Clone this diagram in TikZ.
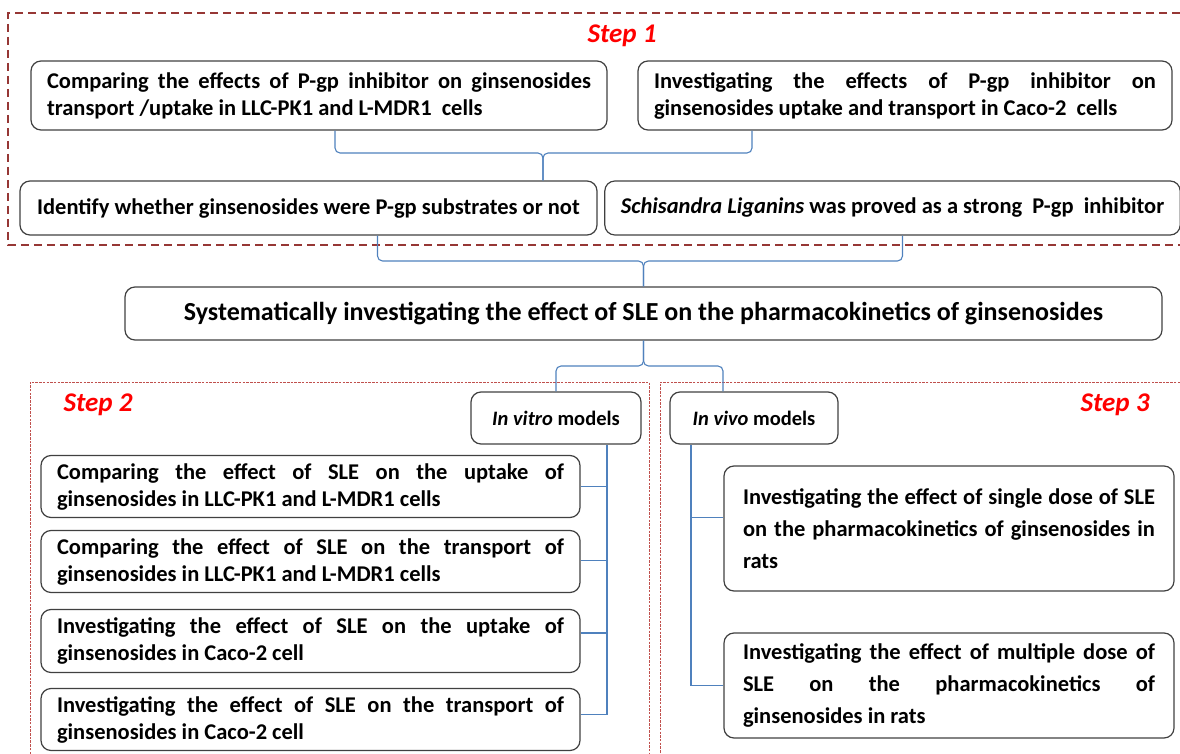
\documentclass[tikz,border=0pt]{standalone}
\usepackage{fontspec}
\setmainfont{Carlito}
\definecolor{framered}{RGB}{150,55,53}
\definecolor{dotred}{RGB}{192,80,77}
\definecolor{linkblue}{RGB}{79,129,189}
\definecolor{boxgray}{RGB}{64,64,64}
\hyphenpenalty=10000
\exhyphenpenalty=10000

\begin{document}
\begin{tikzpicture}[
    x=1pt, y=-1pt,
    box/.style={draw=boxgray, line width=1.2pt, rounded corners=10pt,
        inner xsep=16pt, inner ysep=0pt,
        font=\bfseries\fontsize{22.5}{27}\selectfont},
    stepname/.style={text=red, font=\bfseries\itshape\fontsize{27}{30}\selectfont},
    stepframe/.style={draw=framered, line width=2.5pt, dash pattern=on 8pt off 5pt},
    subframe/.style={draw=dotred, line width=0.8pt, dash pattern=on 2.5pt off 1.2pt},
    link/.style={draw=linkblue, line width=1.1pt, rounded corners=5pt},
    tree/.style={draw=linkblue, line width=1.1pt},
]
\path[use as bounding box] (0,0) rectangle (1180,754);
% Frames
\draw[stepframe] (1180,13) -- (8,13) -- (8,245) -- (1180,245);
\draw[subframe] (30,754) -- (30,382) -- (649,382) -- (649,754);
\draw[subframe] (1180,382) -- (660,382) -- (660,754);
\node[stepname] (s1) at (622,36) {Step 1};
\node[stepname] (s2) at (98,405) {Step 2};
\node[stepname] (s3) at (1115,405) {Step 3};
% Step 1 nodes
\node[box, minimum width=576pt, minimum height=69pt, text width=544pt, align=justify] (A) at (319,95.5)
    {Comparing the effects of P-gp inhibitor on ginsenosides\linebreak transport /uptake in LLC-PK1 and L-MDR1~ cells};
\node[box, minimum width=534pt, minimum height=69pt, text width=502pt, align=justify] (B) at (905,95.5)
    {Investigating the effects of P-gp inhibitor on\linebreak ginsenosides uptake and transport in Caco-2~ cells};
\node[box, minimum width=577pt, minimum height=54pt, align=center] (C) at (308.5,208)
    {Identify whether ginsenosides were P-gp substrates or not};
\node[box, minimum width=571pt, minimum height=54pt, align=center] (D) at (892.5,208)
    {\textit{Schisandra Liganins} was proved as a strong~ P-gp~ inhibitor};
% Main node
\node[box, minimum width=1037pt, minimum height=53pt, align=center, font=\bfseries\fontsize{26}{30}\selectfont] (E) at (643.5,313.5)
    {Systematically investigating the effect of SLE on the pharmacokinetics of ginsenosides};
\node[box, minimum width=170pt, minimum height=52pt, align=center, font=\bfseries\fontsize{20.5}{24}\selectfont] (V) at (556,418)
    {\textit{In vitro} models};
\node[box, minimum width=168pt, minimum height=52pt, align=center, font=\bfseries\fontsize{20.5}{24}\selectfont] (W) at (754,418)
    {\textit{In vivo} models};
% Step 2 nodes
\node[box, minimum width=539pt, minimum height=62pt, text width=507pt, align=justify] (F1) at (310.5,486.5)
    {Comparing the effect of SLE on the uptake of\linebreak ginsenosides in LLC-PK1 and L-MDR1 cells};
\node[box, minimum width=539pt, minimum height=62pt, text width=507pt, align=justify] (F2) at (310.5,561.5)
    {Comparing the effect of SLE on the transport of\linebreak ginsenosides in LLC-PK1 and L-MDR1 cells};
\node[box, minimum width=539pt, minimum height=63pt, text width=507pt, align=justify] (F3) at (310.5,641)
    {Investigating the effect of SLE on the uptake of\linebreak ginsenosides in Caco-2 cell};
\node[box, minimum width=539pt, minimum height=62pt, text width=507pt, align=justify] (F4) at (310.5,719.5)
    {Investigating the effect of SLE on the transport of\linebreak ginsenosides in Caco-2 cell};
% Step 3 nodes
\node[box, minimum width=450pt, minimum height=125pt, text width=412pt, inner xsep=19pt, align=justify,
    font=\bfseries\fontsize{22.5}{32}\selectfont] (G1) at (949,528.5)
    {Investigating the effect of single dose of SLE\linebreak on the pharmacokinetics of ginsenosides in\linebreak rats};
\node[box, minimum width=450pt, minimum height=105pt, text width=412pt, inner xsep=19pt, align=justify,
    font=\bfseries\fontsize{22.5}{32}\selectfont] (G2) at (949,685.5)
    {Investigating the effect of multiple dose of\linebreak SLE on the pharmacokinetics of\linebreak ginsenosides in rats};
% Braces
\coordinate (t1) at (543,153);
\coordinate (t2) at (643.5,261);
\coordinate (t3) at (643.5,366);
\draw[link] ([xshift=16pt]A.south) |- (t1) -- (t1 |- C.north);
\draw[link] ([xshift=-153pt]B.south) |- (t1) -- (t1 |- C.north);
\draw[link] ([xshift=69pt]C.south) |- (t2) -- (E.north);
\draw[link] ([xshift=10pt]D.south) |- (t2) -- (E.north);
\draw[link] (E.south) -- (t3) -| (V.north);
\draw[link] (E.south) -- (t3) -| ([xshift=-31pt]W.north);
% Trees
\coordinate (v0) at ([xshift=51pt]V.south);
\coordinate (w0) at ([xshift=-63pt]W.south);
\foreach \f/\s in {F1/0, F2/1, F3/8, F4/5}
    \draw[tree] ([yshift=\s pt]\f.east) -| (v0);
\foreach \g/\s in {G1/11, G2/0}
    \draw[tree] ([yshift=\s pt]\g.west) -| (w0);
\end{tikzpicture}
\end{document}
